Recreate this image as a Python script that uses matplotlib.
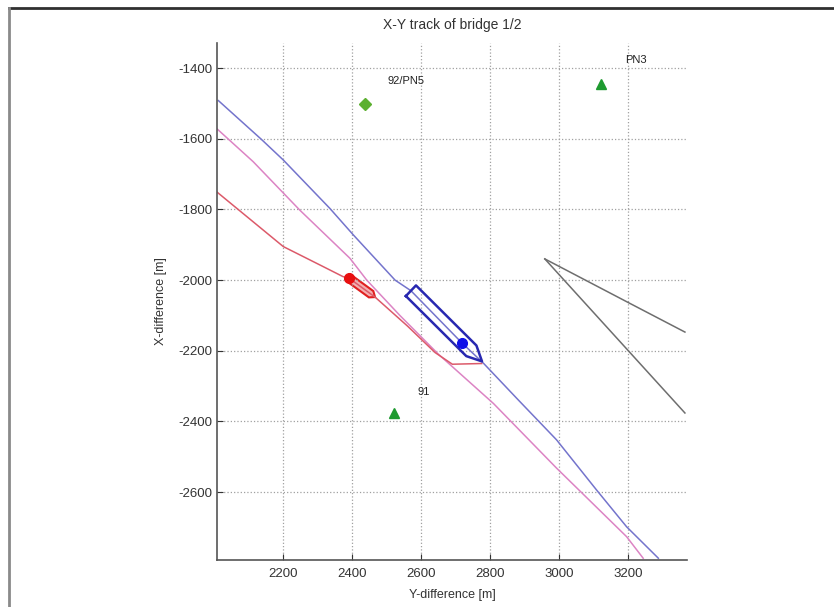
import numpy as np
import matplotlib
matplotlib.use("Agg")
import matplotlib.pyplot as plt
from matplotlib.lines import Line2D

plt.rcParams['font.family'] = ['Liberation Sans', 'DejaVu Sans']
plt.rcParams['axes.unicode_minus'] = False

# tracks (Y-difference, X-difference) in m
blue_y = [2012, 2137, 2200, 2335, 2403, 2524, 2570, 2640, 2718, 2780, 2881, 2992, 3108, 3195, 3287]
blue_x = [-1492, -1602, -1660, -1797, -1872, -2000, -2030, -2100, -2178, -2235, -2339, -2452, -2594, -2698, -2787]
pink_y = [2007, 2113, 2248, 2393, 2442, 2538, 2650, 2809, 2992, 3195, 3243]
pink_x = [-1571, -1665, -1802, -1938, -2000, -2100, -2210, -2349, -2532, -2726, -2787]
red_y = [2007, 2200, 2306, 2373, 2390, 2466, 2560, 2640, 2690, 2775]
red_x = [-1750, -1905, -1957, -1990, -1994, -2048, -2130, -2205, -2238, -2236]
gray1_y = [2958, 3195, 3364]
gray1_x = [-1940, -2061, -2147]
gray2_y = [2958, 3364]
gray2_x = [-1940, -2376]

# ships: stern point, bow point, width
red_ship = dict(y0=2390, x0=-1994, y1=2466, x1=-2048, width=22)
blue_ship = dict(y0=2570, x0=-2030, y1=2776, x1=-2230, width=42)
red_dot = (2390, -1994)
blue_dot = (2718, -2178)

# reference points
pts_name = ['92/PN5', 'PN3', '91']
pts_y = [2437, 3121, 2521]
pts_x = [-1502, -1445, -2376]
pts_marker = ['D', '^', '^']
lbl_y = [2503, 3190, 2590]
lbl_x = [-1437, -1377, -2317]


def hull(s):
    y0, x0, y1, x1, w = s['y0'], s['x0'], s['y1'], s['x1'], s['width']
    d = np.array([y1 - y0, x1 - x0], dtype=float)
    L = np.hypot(*d)
    u = d / L
    n = np.array([-u[1], u[0]])
    loc = [(0, -w / 2), (0.85 * L, -w / 2), (L, 0), (0.85 * L, w / 2), (0, w / 2), (0, -w / 2)]
    p = np.array([[y0, x0] + a * u + b * n for a, b in loc])
    return p[:, 0], p[:, 1]


fig = plt.figure(figsize=(8.34, 6.07), dpi=100)
ax = fig.add_axes([217 / 834, 47 / 607, 470 / 834, 517 / 607])

ax.plot(blue_y, blue_x, color='#7474cc', lw=1.1)
ax.plot(pink_y, pink_x, color='#dc84c4', lw=1.1)
ax.plot(red_y, red_x, color='#dc5a6a', lw=1.1)
ax.plot(gray1_y, gray1_x, color='#6e6e6e', lw=1.1)
ax.plot(gray2_y, gray2_x, color='#6e6e6e', lw=1.1)

hy, hx = hull(red_ship)
ax.fill(hy, hx, facecolor='#f4b0b0', edgecolor='#e02020', lw=1.5)
hy, hx = hull(blue_ship)
ax.plot(hy, hx, color='#2828b0', lw=1.8)
ax.plot(*red_dot, 'o', color='#e81010', ms=7)
ax.plot(*blue_dot, 'o', color='#1010e8', ms=7)

for name, py, px, m, ly, lx in zip(pts_name, pts_y, pts_x, pts_marker, lbl_y, lbl_x):
    col = '#5cb030' if m == 'D' else '#1e9a30'
    ax.plot(py, px, m, color=col, ms=6 if m == 'D' else 7)
    ax.text(ly, lx, name, fontsize=8, ha='left', va='center', color='#222222')

ax.set_xlim(2008, 3370)
ax.set_ylim(-2792, -1329)
ax.set_xticks([2200, 2400, 2600, 2800, 3000, 3200])
ax.set_yticks([-2600, -2400, -2200, -2000, -1800, -1600, -1400])
ax.grid(True, linestyle=':', color='#a0a0a0', lw=0.9)
ax.tick_params(direction='in', labelsize=9.5, colors='#333333', length=4)
ax.tick_params(axis='x', pad=6)
for s in ['top', 'right']:
    ax.spines[s].set_visible(False)
for s in ['left', 'bottom']:
    ax.spines[s].set_color('#555555')
    ax.spines[s].set_linewidth(1.2)

ax.set_title('X-Y track of bridge 1/2', fontsize=10, color='#333333', pad=10)
ax.set_xlabel('Y-difference [m]', fontsize=9, color='#333333', labelpad=6)
ax.set_ylabel('X-difference [m]', fontsize=9, color='#333333', labelpad=8)

# window frame at top and left
fig.add_artist(Line2D([9 / 834, 1], [1 - 8 / 607, 1 - 8 / 607], color='#303030', lw=2))
fig.add_artist(Line2D([9 / 834, 9 / 834], [0, 1 - 8 / 607], color='#8a8a8a', lw=2))

fig.savefig('out.png', dpi=100)
